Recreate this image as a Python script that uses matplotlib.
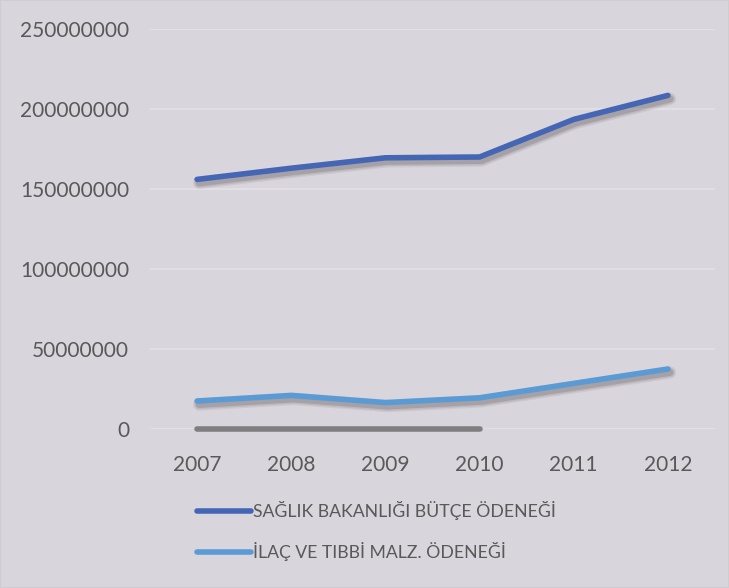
import matplotlib.pyplot as plt
import matplotlib.patheffects as pe
from matplotlib.lines import Line2D
from matplotlib.patches import Rectangle

# yearly appropriations (TL)
years = ['2007', '2008', '2009', '2010', '2011', '2012']
butce = [156000000, 163000000, 169500000, 170000000, 193500000, 208500000]
ilac = [17500000, 21000000, 16500000, 19500000, 28500000, 37500000]
diger = [0, 0, 0, 0]

bg = '#d9d5dc'
text_col = '#595959'
plt.rcParams['font.family'] = ['Lato', 'DejaVu Sans']

fig = plt.figure(figsize=(7.29, 5.88), dpi=100, facecolor=bg)
fig.patches.append(Rectangle((0, 0), 1, 1, transform=fig.transFigure,
                             fill=False, edgecolor='#cfccd2', linewidth=1.5))
ax = fig.add_axes([150/729, 1 - 429/588, 565/729, 400/588])
ax.set_facecolor(bg)

# soft drop shadow built from a few widening translucent strokes
shadow = [pe.SimpleLineShadow(offset=(1.5, -2.5), shadow_color='k', alpha=0.06, linewidth=9),
          pe.SimpleLineShadow(offset=(1.5, -2.5), shadow_color='k', alpha=0.08, linewidth=7),
          pe.SimpleLineShadow(offset=(1.5, -2.5), shadow_color='k', alpha=0.12, linewidth=5),
          pe.Normal()]
x = list(range(len(years)))
ax.plot(x, butce, color='#4466b4', lw=4, solid_capstyle='round',
        solid_joinstyle='round', path_effects=shadow, zorder=3)
ax.plot(x, ilac, color='#5b9bd5', lw=4, solid_capstyle='round',
        solid_joinstyle='round', path_effects=shadow, zorder=3)
ax.plot(x[:len(diger)], diger, color='#7f7f7f', lw=4, solid_capstyle='round',
        zorder=3, clip_on=False)

ax.set_xlim(-0.5, 5.5)
ax.set_ylim(0, 250000000)
ax.set_yticks(range(0, 250000001, 50000000))
ax.set_yticklabels([str(v) for v in range(0, 250000001, 50000000)])
ax.set_xticks(x)
ax.set_xticklabels(years)
ax.grid(axis='y', color='#e3e0e6', lw=1.2)
ax.set_axisbelow(True)
for s in ax.spines.values():
    s.set_visible(False)
ax.tick_params(axis='both', length=0, labelsize=15, labelcolor=text_col)
ax.tick_params(axis='y', pad=15)
ax.tick_params(axis='x', pad=19)

handles = [Line2D([], [], color='#4466b4', lw=4, solid_capstyle='round'),
           Line2D([], [], color='#5b9bd5', lw=4, solid_capstyle='round')]
labels = ['SAĞLIK BAKANLIĞI BÜTÇE ÖDENEĞİ', 'İLAÇ VE TIBBİ MALZ. ÖDENEĞİ']
leg = fig.legend(handles, labels, loc='upper left',
                 bbox_to_anchor=(188/729, 1 - 492/588), frameon=False,
                 fontsize=12.7, handlelength=3.1, handletextpad=0.1,
                 labelspacing=1.25, borderpad=0)
for t in leg.get_texts():
    t.set_color(text_col)

fig.savefig('out.png', dpi=100, facecolor=bg)
